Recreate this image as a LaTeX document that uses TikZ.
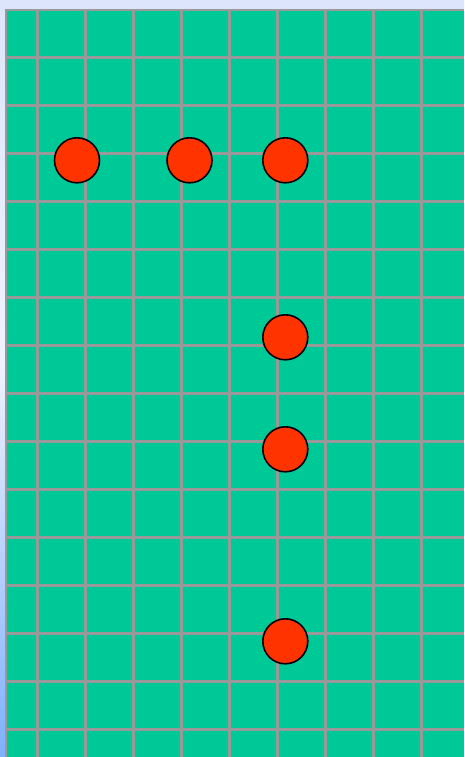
\documentclass[tikz,border=0pt]{standalone}
\definecolor{bgtop}{HTML}{DCE5FB}
\definecolor{bgmid}{HTML}{F0F3FD}
\definecolor{bgbot}{HTML}{7FB0FA}
\definecolor{fieldgreen}{HTML}{00C998}
\definecolor{gridgray}{HTML}{999999}
\definecolor{dotred}{HTML}{FF3300}
\tikzset{
  gridline/.style={draw=gridgray, line width=2.4pt},
  dot/.style={circle, fill=dotred, draw=black, line width=1.6pt, minimum size=45pt, inner sep=0pt}
}
\begin{document}
\begin{tikzpicture}[x=1pt,y=-1pt]
\useasboundingbox (0,0) rectangle (464,757);
\shade[top color=bgtop, bottom color=bgmid] (0,0) rectangle (464,360);
\shade[top color=bgmid, bottom color=bgbot] (0,359.5) rectangle (464,757);
\fill[fieldgreen] (6,10) rectangle (464,757);
\draw[gridline] (6,10) -- (6,757);
\foreach \i in {0,...,8} {
  \draw[gridline] (37.5+48*\i,10) -- (37.5+48*\i,757);
}
\draw[gridline] (4.8,10) -- (464,10);
\foreach \j in {0,...,14} {
  \draw[gridline] (6,57.5+48*\j) -- (464,57.5+48*\j);
}
\node[dot] (d1) at (77,160.3) {};
\node[dot] (d2) at (189.5,160.3) {};
\node[dot] (d3) at (285.3,160.3) {};
\node[dot] (d4) at (285.3,337.3) {};
\node[dot] (d5) at (285.3,449.3) {};
\node[dot] (d6) at (285.3,641.3) {};
\end{tikzpicture}
\end{document}
